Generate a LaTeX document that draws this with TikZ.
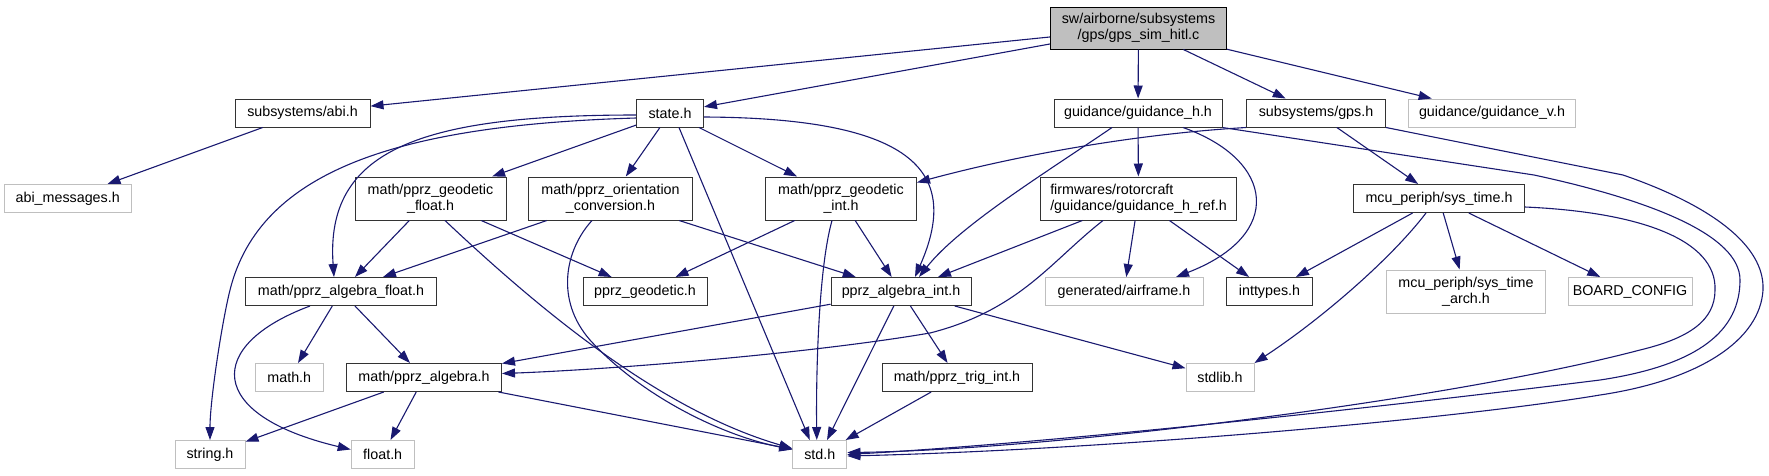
\documentclass[tikz,border=0pt]{standalone}
\usepackage{fontspec}
\setmainfont{Liberation Sans}
\usepackage{xcolor}
\usetikzlibrary{arrows.meta}
\definecolor{edgeblue}{HTML}{191970}
\definecolor{boxgray}{HTML}{BFBFBF}
\tikzset{
  incbox/.style={draw=black!80, line width=1pt, fill=white, align=center, font=\fontsize{14.3}{16}\selectfont, inner sep=0pt, minimum height=28pt},
  extbox/.style={incbox, draw=boxgray},
  rootbox/.style={incbox, draw=black, fill=boxgray},
  incarr/.style={-{Triangle[length=13pt,width=9pt]}, color=edgeblue, line width=1.1pt}
}
\begin{document}
\begin{tikzpicture}[x=1pt, y=-1pt]
\useasboundingbox (0,0) rectangle (1769,475);
\node[rootbox, minimum width=176pt, minimum height=42pt] (main) at (1138.5,28) {sw/airborne/subsystems\\/gps/gps\_sim\_hitl.c};
\node[incbox, minimum width=135pt] (abi) at (302.5,113) {subsystems/abi.h};
\node[incbox, minimum width=67pt] (state) at (670,113) {state.h};
\node[incbox, minimum width=168pt] (guidh) at (1138,113) {guidance/guidance\_h.h};
\node[incbox, minimum width=139pt] (gps) at (1316,113) {subsystems/gps.h};
\node[extbox, minimum width=167pt] (guidv) at (1492,113) {guidance/guidance\_v.h};
\node[extbox, minimum width=127pt] (abimsg) at (67.7,198.5) {abi\_messages.h};
\node[incbox, minimum width=151pt, minimum height=43pt] (gfloat) at (430.5,198.5) {math/pprz\_geodetic\\\_float.h};
\node[incbox, minimum width=164pt, minimum height=43pt] (orient) at (610.5,198.5) {math/pprz\_orientation\\\_conversion.h};
\node[incbox, minimum width=151pt, minimum height=43pt] (gint) at (841,198.5) {math/pprz\_geodetic\\\_int.h};
\node[incbox, minimum width=196pt, minimum height=43pt, align=left] (gref) at (1138.5,198.5) {firmwares/rotorcraft\\/guidance/guidance\_h\_ref.h};
\node[incbox, minimum width=171pt] (systime) at (1439,198.5) {mcu\_periph/sys\_time.h};
\node[incbox, minimum width=191pt] (afloat) at (341,291.5) {math/pprz\_algebra\_float.h};
\node[incbox, minimum width=124pt] (pgeod) at (645,291.5) {pprz\_geodetic.h};
\node[incbox, minimum width=140pt] (aint) at (901,291.5) {pprz\_algebra\_int.h};
\node[extbox, minimum width=158pt] (airframe) at (1124,291.5) {generated/airframe.h};
\node[incbox, minimum width=86pt] (inttypes) at (1269.5,291.5) {inttypes.h};
\node[extbox, minimum width=159pt, minimum height=43pt] (sysarch) at (1466,291.5) {mcu\_periph/sys\_time\\\_arch.h};
\node[extbox, minimum width=124pt] (board) at (1630,291.5) {BOARD\_CONFIG};
\node[extbox, minimum width=68pt] (mathh) at (289.3,377.5) {math.h};
\node[incbox, minimum width=155pt] (palg) at (424,377.5) {math/pprz\_algebra.h};
\node[incbox, minimum width=150pt] (trig) at (957,377.5) {math/pprz\_trig\_int.h};
\node[extbox, minimum width=68pt] (stdlib) at (1220,377.5) {stdlib.h};
\node[extbox, minimum width=70pt] (stringh) at (210,454.5) {string.h};
\node[extbox, minimum width=63pt] (floath) at (382.7,454.5) {float.h};
\node[extbox, minimum width=54pt] (stdh) at (819.8,454.5) {std.h};
% gps_sim_hitl.c
\draw[incarr] (main) -- (abi);
\draw[incarr] (main) -- (state);
\draw[incarr] (main) -- (guidh);
\draw[incarr] (main) -- (gps);
\draw[incarr] (main) -- (guidv);
\draw[incarr] (abi) -- (abimsg);
% state.h
\draw[incarr] ([yshift=-2pt]state.west) .. controls (420,115) and (325,150) .. ([xshift=-7pt]afloat.north);
\draw[incarr] ([yshift=-5pt]state.west) .. controls (400,125) and (260,170) .. (230,290) .. controls (222,322) and (210,400) .. (stringh.north);
\draw[incarr] (state) -- (gfloat);
\draw[incarr] (state) -- (orient);
\draw[incarr] (state) -- (gint);
\draw[incarr] ([xshift=9pt]state.south) -- ([xshift=-10pt]stdh.north);
\draw[incarr] ([yshift=-4pt]state.east) .. controls (920,118) and (960,175) .. ([xshift=14pt]aint.north);
% guidance_h.h
\draw[incarr] (guidh) -- (gref);
\draw[incarr] ([xshift=-26pt]guidh.south) .. controls (1050,170) and (960,225) .. ([xshift=18pt]aint.north);
\draw[incarr] ([xshift=45pt]guidh.south) .. controls (1275,160) and (1285,235) .. ([xshift=52pt]airframe.north);
\draw[incarr] (guidh.south east) -- (1534,175) .. controls (1650,200) and (1740,235) .. (1740,280) .. controls (1740,330) and (1700,365) .. (1600,380) .. controls (1480,395) and (1100,440) .. (stdh.east);
% gps.h
\draw[incarr] (gps.south west) .. controls (1120,135) and (1000,160) .. ([yshift=16pt]gint.east);
\draw[incarr] (gps) -- (systime);
\draw[incarr] (gps.south east) -- (1623,175) .. controls (1710,205) and (1765,245) .. (1763,290) .. controls (1760,340) and (1700,380) .. (1600,395) .. controls (1450,420) and (1100,450) .. ([yshift=-1.5pt]stdh.east);
% sys_time.h
\draw[incarr] (systime) -- (inttypes);
\draw[incarr] ([xshift=-13pt]systime.south) .. controls (1390,260) and (1320,320) .. (stdlib.north east);
\draw[incarr] (systime) -- (sysarch);
\draw[incarr] (systime) -- (board);
\draw[incarr] ([yshift=-8.5pt]systime.east) .. controls (1640,212) and (1717,240) .. (1715,290) .. controls (1715,320) and (1690,338) .. (1640,350) .. controls (1450,400) and (1050,450) .. ([yshift=2pt]stdh.east);
% guidance_h_ref.h
\draw[incarr] (gref) -- (aint);
\draw[incarr] (gref) -- (airframe);
\draw[incarr] (gref) -- (inttypes);
\draw[incarr] ([xshift=-35.5pt]gref.south) .. controls (1050,262) and (1020,310) .. (930,333) .. controls (800,355) and (600,370) .. ([yshift=4pt]palg.east);
% geodetic / orientation
\draw[incarr] (gfloat) -- (afloat);
\draw[incarr] (gfloat) -- (pgeod);
\draw[incarr] ([xshift=14.5pt]gfloat.south) .. controls (540,310) and (660,410) .. ([yshift=6pt]stdh.west);
\draw[incarr] (orient) -- (afloat);
\draw[incarr] (orient) -- (aint);
\draw[incarr] ([xshift=-18.5pt]orient.south) .. controls (565,250) and (555,300) .. (590,340) .. controls (640,395) and (720,435) .. ([yshift=5pt]stdh.west);
\draw[incarr] (gint) -- (pgeod);
\draw[incarr] (gint) -- (aint);
\draw[incarr] ([xshift=-9pt]gint.south) .. controls (818,270) and (816,380) .. ([xshift=-3pt]stdh.north);
% algebra
\draw[incarr] (afloat) -- (mathh);
\draw[incarr] (afloat) -- (palg);
\draw[incarr] ([xshift=-31pt]afloat.south) .. controls (205,345) and (205,415) .. ([yshift=5pt]floath.west);
\draw[incarr] (aint) -- (palg);
\draw[incarr] (aint) -- (stdh);
\draw[incarr] (aint) -- (trig);
\draw[incarr] (aint) -- (stdlib);
\draw[incarr] (palg) -- (stringh);
\draw[incarr] (palg) -- (floath);
\draw[incarr] (palg) -- (stdh);
\draw[incarr] (trig) -- (stdh);
\end{tikzpicture}
\end{document}
